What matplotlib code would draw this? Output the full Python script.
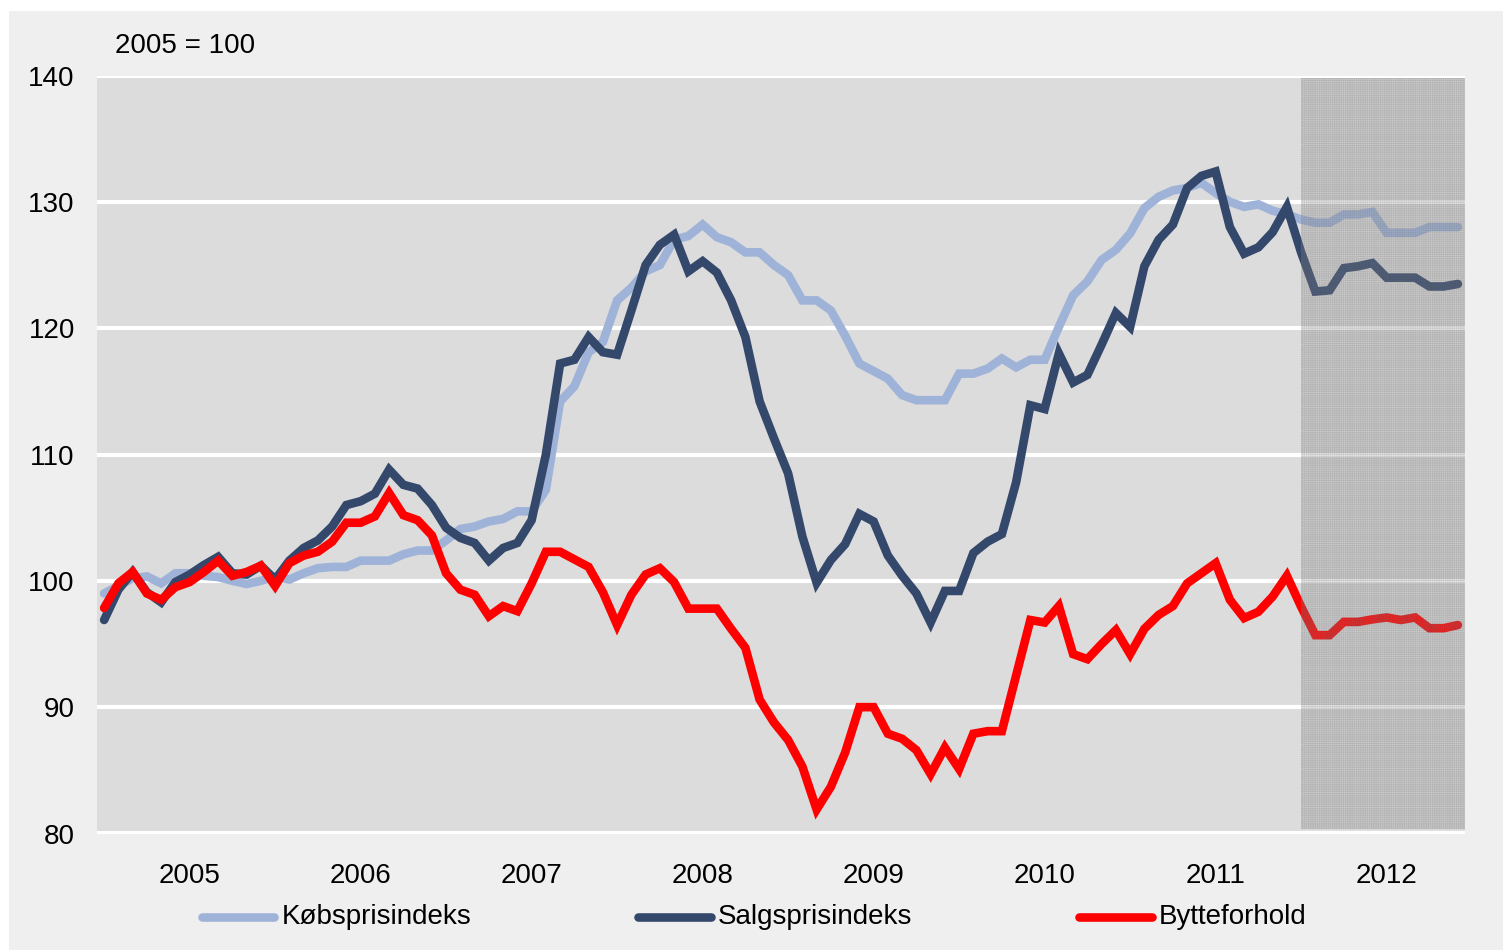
import matplotlib
matplotlib.use("Agg")
import matplotlib.pyplot as plt
from matplotlib.patches import Rectangle
from matplotlib.lines import Line2D
import numpy as np

plt.rcParams['font.family'] = ['Liberation Sans', 'DejaVu Sans']
plt.rcParams['hatch.linewidth'] = 0.5

# ---- data (monthly, Jan 2005 - Dec 2012) ----
years = ['2005', '2006', '2007', '2008', '2009', '2010', '2011', '2012']
series_names = ['Købsprisindeks', 'Salgsprisindeks', 'Bytteforhold']

kobspris = [99.0, 99.6, 100.2, 100.35, 99.8, 100.6, 100.6, 100.4, 100.3, 100.0, 99.75, 100.0,
            100.35, 100.1, 100.6, 101.0, 101.1, 101.1, 101.6, 101.6, 101.6, 102.1, 102.4, 102.4,
            103.2, 104.1, 104.3, 104.7, 104.9, 105.5, 105.5, 107.2, 114.2, 115.4, 118.1, 118.9,
            122.2, 123.2, 124.5, 125.0, 127.0, 127.3, 128.2, 127.2, 126.8, 126.0, 126.0, 125.0,
            124.2, 122.2, 122.2, 121.4, 119.4, 117.2, 116.6, 116.0, 114.7, 114.3, 114.3, 114.3,
            116.4, 116.4, 116.8, 117.6, 116.9, 117.5, 117.5, 120.1, 122.6, 123.7, 125.4, 126.2,
            127.5, 129.5, 130.4, 130.9, 131.1, 131.5, 130.7, 130.0, 129.6, 129.8, 129.3, 129.0,
            128.6, 128.35, 128.35, 129.0, 129.0, 129.2, 127.55, 127.55, 127.55, 128.0, 128.0, 128.0]

salgspris = [96.9, 99.3, 100.7, 99.1, 98.3, 99.9, 100.5, 101.25, 101.9, 100.6, 100.5, 101.2,
             100.1, 101.6, 102.6, 103.2, 104.3, 106.0, 106.3, 106.9, 108.8, 107.6, 107.3, 106.0,
             104.2, 103.4, 103.0, 101.6, 102.6, 103.0, 104.8, 110.0, 117.2, 117.5, 119.3, 118.1,
             117.9, 121.4, 125.0, 126.6, 127.4, 124.5, 125.3, 124.4, 122.2, 119.3, 114.2, 111.3,
             108.5, 103.5, 99.85, 101.65, 102.9, 105.3, 104.7, 102.0, 100.4, 99.0, 96.7, 99.2,
             99.2, 102.2, 103.1, 103.7, 107.8, 113.9, 113.6, 118.0, 115.7, 116.3, 118.7, 121.2,
             120.1, 124.9, 127.0, 128.2, 131.1, 132.05, 132.4, 128.0, 125.9, 126.4, 127.6, 129.6,
             126.0, 122.9, 123.0, 124.75, 124.9, 125.15, 124.0, 124.0, 124.0, 123.3, 123.3, 123.5]

bytteforhold = [97.85, 99.8, 100.7, 99.0, 98.5, 99.5, 99.9, 100.7, 101.6, 100.4, 100.7, 101.2,
                99.6, 101.4, 102.0, 102.3, 103.1, 104.6, 104.6, 105.1, 106.95, 105.2, 104.8, 103.6,
                100.6, 99.3, 98.9, 97.2, 98.0, 97.6, 99.8, 102.3, 102.3, 101.7, 101.1, 99.1,
                96.5, 98.9, 100.5, 101.0, 99.9, 97.8, 97.8, 97.8, 96.2, 94.7, 90.6, 88.8,
                87.4, 85.3, 81.9, 83.7, 86.4, 90.0, 90.0, 87.9, 87.5, 86.6, 84.7, 86.8,
                85.1, 87.9, 88.1, 88.1, 92.5, 96.9, 96.7, 98.0, 94.2, 93.8, 95.0, 96.1,
                94.2, 96.2, 97.3, 98.0, 99.8, 100.6, 101.4, 98.5, 97.05, 97.55, 98.75, 100.4,
                97.95, 95.7, 95.7, 96.75, 96.75, 96.95, 97.1, 96.9, 97.1, 96.25, 96.25, 96.5]

forecast_start = 84  # first month (index) in the shaded forecast area
colors = ['#9fb3d8', '#34486c', '#ff0000']

# ---- figure ----
W, H = 1503, 950
fig = plt.figure(figsize=(W / 100, H / 100), dpi=100, facecolor='white')
fig.patches.append(Rectangle((9 / W, 0), 1, 1 - 11 / H, transform=fig.transFigure,
                             facecolor='#efefef', edgecolor='none', zorder=-10))

ax_l, ax_r, ax_t, ax_b = 97, 1465, 75.5, 833.5
ax = fig.add_axes([ax_l / W, 1 - ax_b / H, (ax_r - ax_l) / W, (ax_b - ax_t) / H])
ax.set_facecolor('#dcdcdc')

x = np.arange(len(kobspris))
for vals, c, name in zip([kobspris, salgspris, bytteforhold], colors, series_names):
    ax.plot(x, vals, color=c, lw=6.2, solid_capstyle='round', solid_joinstyle='miter',
            zorder=3, label=name)

ax.set_xlim(-0.5, len(x) - 0.5)
ax.set_ylim(80, 140)
ax.set_yticks(np.arange(80, 141, 10))
ax.yaxis.grid(True, color='white', lw=3.0, zorder=1)
ax.set_axisbelow(True)
ax.set_xticks(np.arange(len(years)) * 12 + 6)
ax.set_xticklabels(years)
ax.tick_params(axis='both', length=0, labelsize=20, colors='black')
ax.tick_params(axis='x', pad=21)
ax.tick_params(axis='y', pad=16)
for s in ax.spines.values():
    s.set_visible(False)

# forecast shading
ax.axvspan(forecast_start, len(x) - 0.5, ymin=0.006, ymax=0.997,
           facecolor=(0.55, 0.55, 0.55, 0.2), edgecolor=(0.45, 0.45, 0.45, 0.25),
           hatch='+' * 9, lw=0, zorder=4)

fig.text(115 / W, 1 - 46 / H, '2005 = 100', fontsize=20, va='center', ha='left')

# legend (manual layout)
leg_y = 1 - 917 / H
for (hx0, hx1, tx), c, name in zip([(202, 274, 282), (638, 711, 718), (1079, 1152, 1159)],
                                   colors, series_names):
    fig.add_artist(Line2D([hx0 / W, hx1 / W], [leg_y, leg_y], transform=fig.transFigure,
                          color=c, lw=6.2, solid_capstyle='round'))
    fig.text(tx / W, leg_y, name, fontsize=20, va='center', ha='left')

fig.savefig('out.png', dpi=100, facecolor=fig.get_facecolor())
